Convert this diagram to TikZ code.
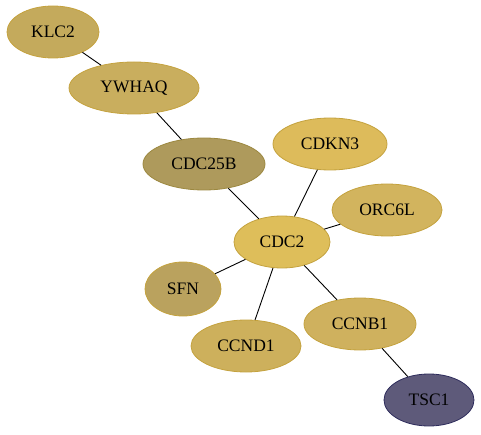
\documentclass[tikz,border=0pt]{standalone}
\usepackage{fontspec}
\setmainfont{Liberation Serif}
\usetikzlibrary{shapes.geometric}
\begin{document}
\begin{tikzpicture}[x=1pt,y=-1pt,
  gene/.style={ellipse, draw, line width=0.8pt, inner sep=0pt, font=\fontsize{17.5}{20}\selectfont},
  link/.style={draw=black, line width=0.9pt}]
\useasboundingbox (0,0) rectangle (481,435);
\definecolor{fKLC}{HTML}{C4AA5C}
\definecolor{fYW}{HTML}{C9AE5E}
\definecolor{fC25}{HTML}{AE9A5C}
\definecolor{fCDK}{HTML}{DDBB5B}
\definecolor{fORC}{HTML}{D2B45E}
\definecolor{fCDC}{HTML}{DEBE5A}
\definecolor{fSFN}{HTML}{BAA25E}
\definecolor{fCNB}{HTML}{CFB15E}
\definecolor{fCND}{HTML}{CDB05C}
\definecolor{fTSC}{HTML}{5E5A7A}
\definecolor{bGold}{HTML}{C4A23E}
\definecolor{bDark}{HTML}{9C8840}
\definecolor{bTSC}{HTML}{2E2C5C}
\node[gene, fill=fKLC, draw=bGold, minimum width=92, minimum height=52] (klc) at (53,32) {KLC2};
\node[gene, fill=fYW, draw=bGold, minimum width=130, minimum height=52] (ywhaq) at (134,88) {YWHAQ};
\node[gene, fill=fC25, draw=bDark, minimum width=122, minimum height=52] (cdc25b) at (204,164) {CDC25B};
\node[gene, fill=fCDK, draw=bGold, minimum width=114, minimum height=52] (cdkn3) at (330,144) {CDKN3};
\node[gene, fill=fORC, draw=bGold, minimum width=110, minimum height=52] (orc) at (387,210) {ORC6L};
\node[gene, fill=fCDC, draw=bGold, minimum width=96, minimum height=52] (cdc2) at (282,242) {CDC2};
\node[gene, fill=fSFN, draw=bGold, minimum width=76, minimum height=54] (sfn) at (183,289) {SFN};
\node[gene, fill=fCNB, draw=bGold, minimum width=112, minimum height=52] (ccnb1) at (360,324) {CCNB1};
\node[gene, fill=fCND, draw=bGold, minimum width=110, minimum height=52] (ccnd1) at (246,346) {CCND1};
\node[gene, fill=fTSC, draw=bTSC, minimum width=90, minimum height=52] (tsc1) at (429,400) {TSC1};
\draw[link] (klc) -- (ywhaq);
\draw[link] (ywhaq) -- (cdc25b);
\draw[link] (cdc25b) -- (cdc2);
\draw[link] (cdkn3) -- (cdc2);
\draw[link] (orc) -- (cdc2);
\draw[link] (sfn) -- (cdc2);
\draw[link] (ccnd1) -- (cdc2);
\draw[link] (ccnb1) -- (cdc2);
\draw[link] (ccnb1) -- (tsc1);
\end{tikzpicture}
\end{document}
